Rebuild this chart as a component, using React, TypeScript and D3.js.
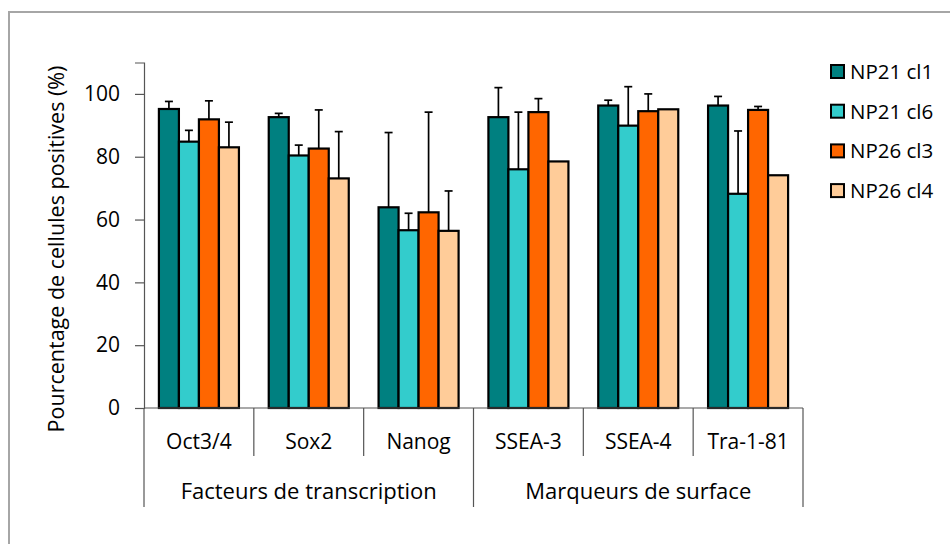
import React, { useEffect, useRef } from 'react';
import * as d3 from 'd3';

const width = 950;
const height = 544;
const margin = { top: 62.5, right: 147, bottom: 136, left: 144 };
const font = "'Open Sans', 'Noto Sans', sans-serif";

// markers and the two groups they belong to
const categories = ['Oct3/4', 'Sox2', 'Nanog', 'SSEA-3', 'SSEA-4', 'Tra-1-81'];
const groups = ['Facteurs de transcription', 'Marqueurs de surface'];
const groupSize = [3, 3];

const series = ['NP21 cl1', 'NP21 cl6', 'NP26 cl3', 'NP26 cl4'];
const colors = ['#008080', '#33cccc', '#ff6600', '#ffcc99'];

// % positive cells, one row per series (same order as categories)
const np21cl1 = [95.2, 92.6, 63.9, 92.6, 96.3, 96.3];
const np21cl6 = [84.8, 80.4, 56.6, 76.0, 89.9, 68.2];
const np26cl3 = [91.9, 82.6, 62.3, 94.2, 94.5, 94.9];
const np26cl4 = [83.0, 73.1, 56.4, 78.5, 95.1, 74.1];

// upward error bars (0 = none drawn)
const err21cl1 = [2.4, 1.2, 23.8, 9.4, 1.7, 2.9];
const err21cl6 = [3.6, 3.3, 5.4, 18.2, 12.4, 20.0];
const err26cl3 = [5.9, 12.3, 31.9, 4.3, 5.5, 1.1];
const err26cl4 = [8.0, 14.9, 12.7, 0, 0, 0];

const values = [np21cl1, np21cl6, np26cl3, np26cl4];
const errors = [err21cl1, err21cl6, err26cl3, err26cl4];

const yTicks = [0, 20, 40, 60, 80, 100];

const x0 = margin.left;
const x1 = width - margin.right;
const yBase = height - margin.bottom;

export default function App() {
  const yAxisRef = useRef<SVGGElement>(null);

  const xScale = d3.scaleBand<string>().domain(categories).range([x0, x1]).padding(0);
  const inner = d3
    .scaleBand<string>()
    .domain(series)
    .range([0, xScale.bandwidth()])
    .paddingInner(0)
    .paddingOuter(0.745);
  const yScale = d3.scaleLinear().domain([0, 110]).range([yBase, margin.top]);

  useEffect(() => {
    const g = d3.select(yAxisRef.current);
    g.call(d3.axisLeft(yScale).tickValues(yTicks).tickSize(9).tickPadding(15));
    g.select('.domain').attr('stroke', '#555').attr('stroke-width', 1.2);
    g.selectAll('.tick line').attr('stroke', '#555').attr('stroke-width', 1.2);
    g.selectAll('.tick text')
      .attr('font-family', font)
      .attr('font-size', 21)
      .attr('fill', '#000');
  }, []);

  // boundaries of the categories along the x axis
  const bounds = categories.map((c) => xScale(c) as number).concat([x1]);
  let acc = 0;
  const groupEdges = [0].concat(groupSize.map((n) => (acc += n)));

  return (
    <svg
      width={width}
      height={height}
      style={{ position: 'absolute', left: 0, top: 0, background: '#fff' }}
    >
      {/* outer frame, only top and left edges are in view */}
      <path d={`M9,${height} V12 H${width}`} fill="none" stroke="#a6a6a6" strokeWidth={2} />

      {/* bars */}
      {series.map((s, si) => (
        <g key={s}>
          {categories.map((c, ci) => {
            const bx = (xScale(c) as number) + (inner(s) as number);
            const v = values[si][ci];
            return (
              <rect
                key={c}
                x={bx}
                y={yScale(v)}
                width={inner.bandwidth()}
                height={yBase - yScale(v)}
                fill={colors[si]}
                stroke="#000"
                strokeWidth={2.2}
              />
            );
          })}
        </g>
      ))}

      {/* error bars, upward only */}
      {series.map((s, si) => (
        <g key={s + '-err'} stroke="#000" strokeWidth={1.7}>
          {categories.map((c, ci) => {
            const e = errors[si][ci];
            if (!e) return null;
            const cx = (xScale(c) as number) + (inner(s) as number) + inner.bandwidth() / 2;
            const v = values[si][ci];
            return (
              <g key={c}>
                <line x1={cx} x2={cx} y1={yScale(v)} y2={yScale(v + e)} />
                <line x1={cx - 4} x2={cx + 4} y1={yScale(v + e)} y2={yScale(v + e)} />
              </g>
            );
          })}
        </g>
      ))}

      {/* y axis */}
      <g ref={yAxisRef} transform={`translate(${x0},0)`} />

      {/* x axis with two-level category labels */}
      <line x1={x0} x2={x1} y1={yBase} y2={yBase} stroke="#555" strokeWidth={1.2} />
      {bounds.map((b, i) => (
        <line
          key={'div' + i}
          x1={b}
          x2={b}
          y1={yBase}
          y2={groupEdges.includes(i) ? 507 : 456}
          stroke="#555"
          strokeWidth={1.2}
        />
      ))}
      {categories.map((c) => (
        <text
          key={c}
          x={(xScale(c) as number) + xScale.bandwidth() / 2}
          y={449}
          textAnchor="middle"
          fontFamily={font}
          fontSize={21}
        >
          {c}
        </text>
      ))}
      {groups.map((gname, gi) => (
        <text
          key={gname}
          x={(bounds[groupEdges[gi]] + bounds[groupEdges[gi + 1]]) / 2}
          y={499}
          textAnchor="middle"
          fontFamily={font}
          fontSize={22}
        >
          {gname}
        </text>
      ))}

      {/* y axis title */}
      <text
        transform={`translate(64,249) rotate(-90)`}
        textAnchor="middle"
        fontFamily={font}
        fontSize={21.5}
      >
        Pourcentage de cellules positives (%)
      </text>

      {/* legend */}
      {series.map((s, si) => (
        <g key={s + '-leg'} transform={`translate(831,${72 + si * 39.7})`}>
          <rect x={0} y={-7} width={13} height={13} fill={colors[si]} stroke="#000" strokeWidth={2} />
          <text x={19} y={7} fontFamily={font} fontSize={20.5}>
            {s}
          </text>
        </g>
      ))}
    </svg>
  );
}
